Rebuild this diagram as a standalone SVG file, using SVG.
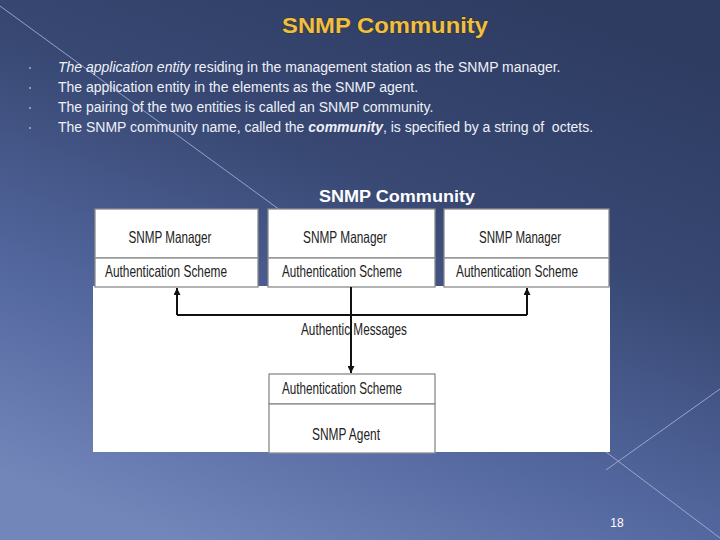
<svg xmlns="http://www.w3.org/2000/svg" width="720" height="540" viewBox="0 0 720 540">
<defs>
<linearGradient id="bg" x1="0.75" y1="0" x2="0.25" y2="1">
<stop offset="0" stop-color="#2e3c62"/>
<stop offset="0.35" stop-color="#384873"/>
<stop offset="0.7" stop-color="#5468a0"/>
<stop offset="1" stop-color="#7286ba"/>
</linearGradient>
<marker id="ah" viewBox="0 0 10 10" refX="10" refY="5" markerWidth="10" markerHeight="7" markerUnits="userSpaceOnUse" orient="auto">
<path d="M0,0 L10,5 L0,10 z" fill="#111"/>
</marker>
<style>
.deco{stroke:#a9b8dc;stroke-width:1;fill:none;opacity:0.8}
.body{font-family:"Liberation Sans",Arial,sans-serif;font-size:14px;fill:#eef1f8}
.box{fill:#fff;stroke:#8a8a8a;stroke-width:1.3}
.lbl{font-family:"Liberation Sans",Arial,sans-serif;font-size:16.5px;fill:#222}
.conn{stroke:#111;stroke-width:2;fill:none}
</style>
</defs>
<rect width="720" height="540" fill="url(#bg)"/>
<line class="deco" x1="0" y1="6" x2="280" y2="210"/>
<line class="deco" x1="606" y1="452" x2="720" y2="538"/>
<line class="deco" x1="606" y1="470" x2="720" y2="389"/>

<text x="385" y="33" text-anchor="middle" font-family="'Liberation Sans',Arial,sans-serif" font-weight="bold" font-size="22" fill="#efbf45" stroke="#3a3218" stroke-width="1" paint-order="stroke" textLength="206" lengthAdjust="spacingAndGlyphs">SNMP Community</text>

<g fill="#aab3c8">
<circle cx="30" cy="68" r="1"/>
<circle cx="30" cy="88" r="1"/>
<circle cx="30" cy="108" r="1"/>
<circle cx="30" cy="128" r="1"/>
</g>
<text class="body" x="58" y="72"><tspan font-style="italic">The application entity</tspan> residing in the management station as the SNMP manager.</text>
<text class="body" x="58" y="92">The application entity in the elements as the SNMP agent.</text>
<text class="body" x="58" y="112">The pairing of the two entities is called an SNMP community.</text>
<text class="body" x="58" y="132">The SNMP community name, called the <tspan font-weight="bold" font-style="italic">community</tspan>, is specified by a string of&#160; octets.</text>

<text x="397" y="202" text-anchor="middle" font-family="'Liberation Sans',Arial,sans-serif" font-weight="bold" font-size="16" fill="#ffffff" textLength="156" lengthAdjust="spacingAndGlyphs">SNMP Community</text>

<rect x="93" y="286" width="517" height="166" fill="#fff"/>

<g id="manager1">
<rect class="box" x="95" y="209" width="163" height="49"/>
<rect class="box" x="95" y="258" width="163" height="29"/>
<text class="lbl" x="170" y="243" text-anchor="middle" textLength="83" lengthAdjust="spacingAndGlyphs">SNMP Manager</text>
<text class="lbl" x="166" y="277" text-anchor="middle" textLength="122" lengthAdjust="spacingAndGlyphs">Authentication Scheme</text>
</g>
<g id="manager2">
<rect class="box" x="268" y="209" width="167" height="49"/>
<rect class="box" x="268" y="258" width="167" height="29"/>
<text class="lbl" x="345" y="243" text-anchor="middle" textLength="84" lengthAdjust="spacingAndGlyphs">SNMP Manager</text>
<text class="lbl" x="342" y="277" text-anchor="middle" textLength="120" lengthAdjust="spacingAndGlyphs">Authentication Scheme</text>
</g>
<g id="manager3">
<rect class="box" x="444" y="209" width="165" height="49"/>
<rect class="box" x="444" y="258" width="165" height="29"/>
<text class="lbl" x="520" y="243" text-anchor="middle" textLength="82" lengthAdjust="spacingAndGlyphs">SNMP Manager</text>
<text class="lbl" x="517" y="277" text-anchor="middle" textLength="122" lengthAdjust="spacingAndGlyphs">Authentication Scheme</text>
</g>
<g id="agent">
<rect class="box" x="269" y="374" width="166" height="30"/>
<rect class="box" x="269" y="404" width="166" height="49"/>
<text class="lbl" x="342" y="394" text-anchor="middle" textLength="120" lengthAdjust="spacingAndGlyphs">Authentication Scheme</text>
<text class="lbl" x="346" y="440" text-anchor="middle" textLength="68" lengthAdjust="spacingAndGlyphs">SNMP Agent</text>
</g>

<g id="connectors">
<polyline class="conn" points="177,315 527,315"/>
<line class="conn" x1="177" y1="315" x2="177" y2="288" marker-end="url(#ah)"/>
<line class="conn" x1="527" y1="315" x2="527" y2="288" marker-end="url(#ah)"/>
<line class="conn" x1="351" y1="287" x2="351" y2="373" marker-end="url(#ah)"/>
<text class="lbl" x="354" y="335" text-anchor="middle" textLength="106" lengthAdjust="spacingAndGlyphs">Authentic Messages</text>
</g>

<text x="617" y="527" text-anchor="middle" font-family="'Liberation Sans',Arial,sans-serif" font-size="12" fill="#ffffff">18</text>
</svg>
